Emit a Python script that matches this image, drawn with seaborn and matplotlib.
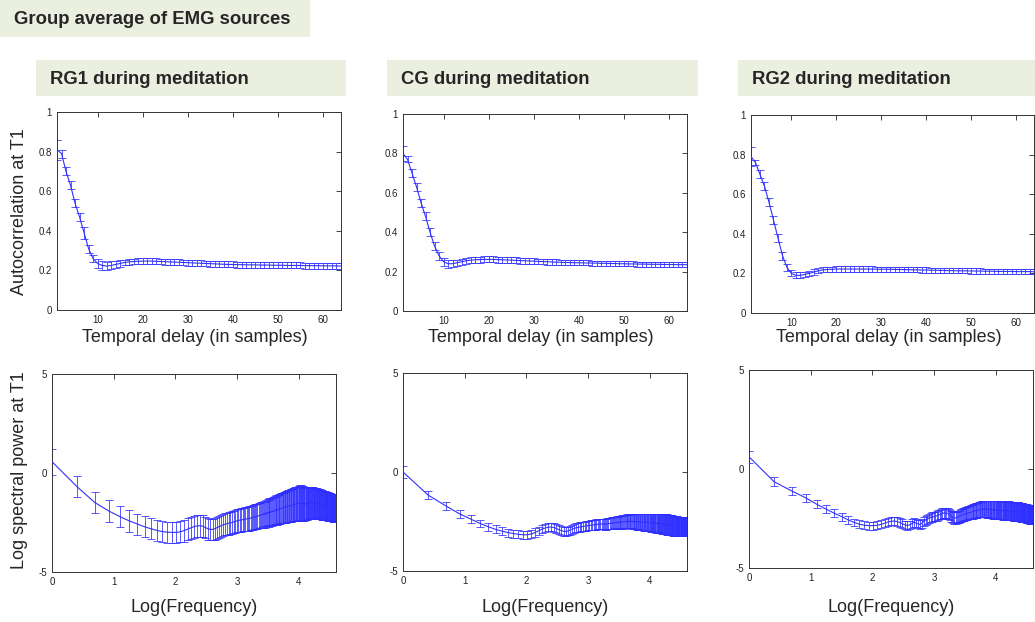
import numpy as np
import matplotlib
matplotlib.use("Agg")
import matplotlib.pyplot as plt
import seaborn as sns
from matplotlib.patches import Rectangle

sns.set_style("white")
plt.rcParams['font.family'] = ['Liberation Sans', 'DejaVu Sans']

# ---------------- data ----------------
panel_titles = ["RG1 during meditation", "CG during meditation", "RG2 during meditation"]
main_title = "Group average of EMG sources"

lags = np.arange(1, 65)            # temporal delay (samples)
freqs = np.arange(1, 100.5, 0.5)   # frequency bins (Hz), plotted as log(f)

acf_rg1 = [0.81, 0.79, 0.70, 0.63, 0.54, 0.47, 0.39, 0.31, 0.26, 0.235,
           0.225, 0.222, 0.225, 0.230, 0.235, 0.240, 0.243, 0.245, 0.246, 0.247,
           0.247, 0.247, 0.246, 0.245, 0.244, 0.243, 0.242, 0.241, 0.240, 0.239,
           0.238, 0.237, 0.236, 0.235, 0.234, 0.233, 0.232, 0.231, 0.230, 0.230,
           0.229, 0.229, 0.228, 0.228, 0.228, 0.227, 0.227, 0.227, 0.226, 0.226,
           0.226, 0.225, 0.225, 0.225, 0.225, 0.224, 0.224, 0.224, 0.224, 0.223,
           0.223, 0.223, 0.223, 0.222]
acf_rg1_err = [0.05, 0.02, 0.02, 0.02, 0.02, 0.02, 0.03, 0.02, 0.02, 0.025,
               0.025, 0.022, 0.020, 0.018, 0.016, 0.015, 0.015, 0.015, 0.015, 0.015,
               0.015, 0.015, 0.015, 0.015, 0.015, 0.015, 0.015, 0.015, 0.015, 0.015,
               0.015, 0.015, 0.015, 0.015, 0.015, 0.015, 0.015, 0.015, 0.015, 0.015,
               0.015, 0.015, 0.015, 0.015, 0.015, 0.015, 0.015, 0.015, 0.015, 0.015,
               0.015, 0.015, 0.015, 0.015, 0.015, 0.015, 0.015, 0.015, 0.015, 0.015,
               0.015, 0.015, 0.015, 0.015]

acf_cg = [0.80, 0.77, 0.70, 0.63, 0.55, 0.48, 0.40, 0.33, 0.28, 0.25,
          0.240, 0.240, 0.245, 0.250, 0.255, 0.258, 0.260, 0.261, 0.262, 0.262,
          0.262, 0.261, 0.260, 0.259, 0.258, 0.257, 0.256, 0.255, 0.254, 0.253,
          0.252, 0.251, 0.250, 0.249, 0.248, 0.247, 0.246, 0.246, 0.245, 0.245,
          0.244, 0.244, 0.243, 0.243, 0.242, 0.242, 0.241, 0.241, 0.240, 0.240,
          0.239, 0.239, 0.238, 0.238, 0.238, 0.237, 0.237, 0.237, 0.236, 0.236,
          0.236, 0.235, 0.235, 0.235]
acf_cg_err = [0.04, 0.015, 0.02, 0.02, 0.02, 0.02, 0.02, 0.02, 0.02, 0.02,
              0.02, 0.018, 0.016, 0.015, 0.015, 0.015, 0.015, 0.015, 0.015, 0.015,
              0.015, 0.015, 0.015, 0.015, 0.015, 0.015, 0.015, 0.015, 0.015, 0.015,
              0.014, 0.014, 0.014, 0.014, 0.014, 0.014, 0.014, 0.014, 0.014, 0.014,
              0.013, 0.013, 0.013, 0.013, 0.013, 0.013, 0.013, 0.013, 0.013, 0.013,
              0.013, 0.013, 0.013, 0.013, 0.013, 0.013, 0.013, 0.013, 0.013, 0.013,
              0.013, 0.013, 0.013, 0.013]

acf_rg2 = [0.79, 0.76, 0.70, 0.64, 0.56, 0.47, 0.38, 0.29, 0.23, 0.20,
           0.190, 0.190, 0.195, 0.200, 0.207, 0.213, 0.218, 0.220, 0.221, 0.222,
           0.222, 0.222, 0.222, 0.222, 0.222, 0.222, 0.222, 0.222, 0.221, 0.221,
           0.221, 0.221, 0.220, 0.220, 0.219, 0.219, 0.218, 0.218, 0.217, 0.217,
           0.216, 0.216, 0.215, 0.215, 0.214, 0.214, 0.213, 0.213, 0.213, 0.212,
           0.212, 0.212, 0.211, 0.211, 0.211, 0.210, 0.210, 0.210, 0.210, 0.209,
           0.209, 0.209, 0.209, 0.208]
acf_rg2_err = [0.05, 0.015, 0.02, 0.02, 0.02, 0.02, 0.02, 0.02, 0.02, 0.015,
               0.015, 0.015, 0.014, 0.014, 0.013, 0.013, 0.013, 0.013, 0.013, 0.013,
               0.013, 0.013, 0.013, 0.013, 0.013, 0.013, 0.013, 0.013, 0.013, 0.013,
               0.013, 0.013, 0.013, 0.013, 0.013, 0.013, 0.013, 0.013, 0.013, 0.013,
               0.013, 0.013, 0.013, 0.013, 0.013, 0.013, 0.013, 0.013, 0.013, 0.013,
               0.013, 0.013, 0.013, 0.013, 0.013, 0.013, 0.013, 0.013, 0.013, 0.013,
               0.013, 0.013, 0.013, 0.013]

psd_rg1 = [0.57, -0.69, -1.49, -1.91, -2.20, -2.42, -2.58, -2.72, -2.82, -2.90,
           -2.96, -2.99, -3.00, -3.00, -2.97, -2.91, -2.84, -2.77, -2.71, -2.67,
           -2.66, -2.69, -2.75, -2.81, -2.85, -2.85, -2.81, -2.76, -2.71, -2.66,
           -2.62, -2.59, -2.56, -2.54, -2.52, -2.50, -2.47, -2.45, -2.42, -2.40,
           -2.38, -2.37, -2.36, -2.34, -2.33, -2.32, -2.31, -2.30, -2.28, -2.27,
           -2.25, -2.23, -2.21, -2.20, -2.18, -2.16, -2.14, -2.12, -2.10, -2.12,
           -2.04, -2.10, -2.01, -2.06, -1.98, -2.03, -1.96, -2.00, -1.94, -1.97,
           -1.91, -1.94, -1.88, -1.91, -1.85, -1.88, -1.83, -1.85, -1.80, -1.81,
           -1.78, -1.78, -1.76, -1.76, -1.74, -1.74, -1.72, -1.71, -1.70, -1.69,
           -1.68, -1.67, -1.66, -1.65, -1.64, -1.63, -1.62, -1.61, -1.60, -1.59,
           -1.58, -1.57, -1.57, -1.56, -1.55, -1.55, -1.54, -1.54, -1.53, -1.54,
           -1.51, -1.55, -1.52, -1.56, -1.53, -1.56, -1.54, -1.56, -1.55, -1.57,
           -1.54, -1.56, -1.53, -1.55, -1.52, -1.54, -1.51, -1.53, -1.50, -1.52,
           -1.50, -1.52, -1.50, -1.52, -1.51, -1.53, -1.51, -1.53, -1.52, -1.54,
           -1.52, -1.54, -1.53, -1.55, -1.54, -1.56, -1.55, -1.57, -1.56, -1.58,
           -1.57, -1.59, -1.58, -1.60, -1.59, -1.61, -1.60, -1.62, -1.61, -1.63,
           -1.62, -1.64, -1.63, -1.65, -1.64, -1.66, -1.65, -1.67, -1.66, -1.68,
           -1.67, -1.69, -1.68, -1.69, -1.69, -1.70, -1.70, -1.71, -1.71, -1.72,
           -1.72, -1.73, -1.73, -1.74, -1.74, -1.75, -1.75, -1.76, -1.76, -1.77,
           -1.77, -1.77, -1.78, -1.78, -1.78, -1.79, -1.79, -1.79, -1.80]
psd_rg1_err = [0.65, 0.54, 0.55, 0.55, 0.54, 0.54, 0.53, 0.53, 0.53, 0.53,
               0.53, 0.53, 0.54, 0.54, 0.54, 0.55, 0.55, 0.55, 0.55, 0.55,
               0.55, 0.55, 0.55, 0.55, 0.55, 0.55, 0.55, 0.55, 0.56, 0.56,
               0.56, 0.56, 0.56, 0.57, 0.57, 0.57, 0.57, 0.58, 0.58, 0.58,
               0.58, 0.59, 0.59, 0.59, 0.60, 0.60, 0.60, 0.61, 0.61, 0.61,
               0.62, 0.62, 0.62, 0.63, 0.63, 0.63, 0.64, 0.64, 0.64, 0.65,
               0.65, 0.66, 0.66, 0.67, 0.67, 0.68, 0.68, 0.69, 0.69, 0.70,
               0.70, 0.71, 0.71, 0.72, 0.72, 0.73, 0.73, 0.74, 0.74, 0.75,
               0.75, 0.76, 0.76, 0.77, 0.77, 0.78, 0.78, 0.79, 0.79, 0.80,
               0.80, 0.80, 0.81, 0.81, 0.81, 0.82, 0.82, 0.82, 0.83, 0.83,
               0.83, 0.84, 0.84, 0.84, 0.85, 0.85, 0.85, 0.86, 0.86, 0.86,
               0.88, 0.82, 0.90, 0.84, 0.86, 0.80, 0.87, 0.83, 0.85, 0.81,
               0.84, 0.80, 0.83, 0.79, 0.82, 0.78, 0.81, 0.77, 0.80, 0.77,
               0.80, 0.77, 0.79, 0.76, 0.78, 0.76, 0.78, 0.75, 0.77, 0.75,
               0.77, 0.75, 0.77, 0.74, 0.76, 0.74, 0.76, 0.74, 0.75, 0.73,
               0.75, 0.73, 0.75, 0.73, 0.74, 0.72, 0.74, 0.72, 0.74, 0.72,
               0.73, 0.71, 0.73, 0.71, 0.72, 0.71, 0.72, 0.70, 0.72, 0.70,
               0.71, 0.70, 0.71, 0.69, 0.71, 0.69, 0.70, 0.69, 0.70, 0.68,
               0.70, 0.68, 0.69, 0.68, 0.69, 0.68, 0.69, 0.67, 0.68, 0.67,
               0.68, 0.67, 0.68, 0.67, 0.67, 0.66, 0.67, 0.66, 0.66]

psd_cg = [0.00, -1.16, -1.71, -2.11, -2.38, -2.60, -2.77, -2.90, -2.99, -3.06,
          -3.11, -3.15, -3.17, -3.17, -3.13, -3.06, -2.97, -2.89, -2.83, -2.79,
          -2.78, -2.80, -2.85, -2.91, -2.96, -2.99, -3.00, -2.98, -2.94, -2.89,
          -2.85, -2.82, -2.80, -2.78, -2.77, -2.75, -2.74, -2.72, -2.71, -2.70,
          -2.69, -2.68, -2.67, -2.66, -2.65, -2.64, -2.63, -2.63, -2.62, -2.62,
          -2.63, -2.64, -2.63, -2.62, -2.61, -2.60, -2.59, -2.58, -2.57, -2.58,
          -2.55, -2.57, -2.54, -2.56, -2.53, -2.55, -2.52, -2.54, -2.51, -2.53,
          -2.50, -2.52, -2.49, -2.51, -2.48, -2.50, -2.48, -2.50, -2.48, -2.50,
          -2.49, -2.51, -2.49, -2.51, -2.50, -2.52, -2.50, -2.52, -2.51, -2.53,
          -2.51, -2.53, -2.52, -2.54, -2.52, -2.54, -2.53, -2.54, -2.53, -2.55,
          -2.53, -2.55, -2.54, -2.55, -2.54, -2.56, -2.55, -2.56, -2.55, -2.57,
          -2.55, -2.57, -2.56, -2.58, -2.56, -2.58, -2.57, -2.59, -2.57, -2.59,
          -2.58, -2.60, -2.58, -2.60, -2.59, -2.61, -2.59, -2.61, -2.60, -2.62,
          -2.60, -2.62, -2.61, -2.63, -2.62, -2.63, -2.62, -2.64, -2.63, -2.65,
          -2.64, -2.65, -2.64, -2.66, -2.65, -2.67, -2.66, -2.67, -2.67, -2.68,
          -2.67, -2.69, -2.68, -2.69, -2.69, -2.70, -2.70, -2.71, -2.70, -2.71,
          -2.71, -2.72, -2.71, -2.72, -2.72, -2.73, -2.72, -2.73, -2.73, -2.74,
          -2.73, -2.74, -2.74, -2.74, -2.74, -2.75, -2.74, -2.75, -2.75, -2.75,
          -2.75, -2.75, -2.75, -2.76, -2.75, -2.76, -2.76, -2.76, -2.76, -2.76,
          -2.76, -2.76, -2.76, -2.76, -2.75, -2.75, -2.75, -2.75, -2.74]
psd_cg_err = [0.30, 0.22, 0.20, 0.20, 0.20, 0.20, 0.20, 0.20, 0.20, 0.20,
              0.20, 0.20, 0.20, 0.20, 0.20, 0.21, 0.21, 0.21, 0.21, 0.21,
              0.21, 0.21, 0.22, 0.22, 0.22, 0.22, 0.22, 0.22, 0.22, 0.23,
              0.23, 0.23, 0.23, 0.23, 0.23, 0.24, 0.24, 0.24, 0.24, 0.24,
              0.25, 0.25, 0.25, 0.25, 0.26, 0.26, 0.26, 0.26, 0.27, 0.27,
              0.27, 0.27, 0.28, 0.28, 0.28, 0.28, 0.29, 0.29, 0.29, 0.29,
              0.30, 0.30, 0.30, 0.31, 0.31, 0.31, 0.32, 0.32, 0.32, 0.33,
              0.33, 0.33, 0.34, 0.34, 0.34, 0.35, 0.35, 0.35, 0.36, 0.36,
              0.36, 0.37, 0.37, 0.37, 0.38, 0.38, 0.38, 0.39, 0.39, 0.39,
              0.40, 0.40, 0.40, 0.41, 0.41, 0.41, 0.42, 0.42, 0.42, 0.42,
              0.43, 0.43, 0.43, 0.43, 0.44, 0.44, 0.44, 0.44, 0.45, 0.45,
              0.45, 0.45, 0.45, 0.46, 0.46, 0.46, 0.46, 0.46, 0.47, 0.47,
              0.47, 0.47, 0.47, 0.47, 0.48, 0.48, 0.48, 0.48, 0.48, 0.48,
              0.48, 0.49, 0.49, 0.49, 0.49, 0.49, 0.49, 0.49, 0.49, 0.50,
              0.50, 0.50, 0.50, 0.50, 0.50, 0.50, 0.50, 0.50, 0.50, 0.50,
              0.50, 0.50, 0.50, 0.50, 0.50, 0.50, 0.50, 0.50, 0.49, 0.49,
              0.49, 0.49, 0.49, 0.49, 0.49, 0.49, 0.49, 0.49, 0.48, 0.48,
              0.48, 0.48, 0.48, 0.48, 0.48, 0.48, 0.47, 0.47, 0.47, 0.47,
              0.47, 0.47, 0.47, 0.47, 0.47, 0.46, 0.46, 0.46, 0.46, 0.46,
              0.46, 0.46, 0.46, 0.46, 0.46, 0.46, 0.46, 0.46, 0.46]

psd_rg2 = [0.62, -0.64, -1.11, -1.45, -1.78, -2.03, -2.24, -2.41, -2.57, -2.70,
           -2.79, -2.84, -2.86, -2.86, -2.84, -2.80, -2.74, -2.68, -2.64, -2.63,
           -2.65, -2.70, -2.76, -2.82, -2.85, -2.83, -2.76, -2.70, -2.72, -2.78,
           -2.80, -2.74, -2.65, -2.58, -2.53, -2.49, -2.46, -2.43, -2.41, -2.39,
           -2.36, -2.33, -2.30, -2.27, -2.24, -2.22, -2.21, -2.22, -2.24, -2.28,
           -2.33, -2.38, -2.42, -2.45, -2.47, -2.47, -2.46, -2.44, -2.41, -2.38,
           -2.35, -2.33, -2.30, -2.29, -2.27, -2.26, -2.24, -2.23, -2.22, -2.21,
           -2.20, -2.18, -2.17, -2.15, -2.14, -2.12, -2.11, -2.10, -2.09, -2.08,
           -2.07, -2.06, -2.05, -2.04, -2.04, -2.03, -2.03, -2.02, -2.02, -2.02,
           -2.02, -2.03, -2.02, -2.04, -2.03, -2.05, -2.03, -2.05, -2.04, -2.06,
           -2.04, -2.06, -2.05, -2.07, -2.05, -2.07, -2.06, -2.08, -2.06, -2.08,
           -2.07, -2.09, -2.07, -2.09, -2.08, -2.10, -2.08, -2.10, -2.09, -2.10,
           -2.09, -2.11, -2.09, -2.11, -2.10, -2.11, -2.10, -2.12, -2.10, -2.12,
           -2.11, -2.12, -2.11, -2.13, -2.11, -2.13, -2.12, -2.13, -2.12, -2.14,
           -2.12, -2.14, -2.13, -2.14, -2.13, -2.15, -2.14, -2.15, -2.14, -2.16,
           -2.15, -2.16, -2.15, -2.17, -2.16, -2.17, -2.16, -2.18, -2.17, -2.18,
           -2.18, -2.19, -2.18, -2.20, -2.19, -2.20, -2.20, -2.21, -2.21, -2.22,
           -2.21, -2.22, -2.22, -2.23, -2.23, -2.24, -2.24, -2.25, -2.25, -2.26,
           -2.26, -2.27, -2.27, -2.28, -2.28, -2.29, -2.29, -2.30, -2.30, -2.31,
           -2.31, -2.32, -2.32, -2.33, -2.33, -2.34, -2.34, -2.35, -2.35]
psd_rg2_err = [0.30, 0.22, 0.22, 0.21, 0.21, 0.21, 0.20, 0.20, 0.20, 0.20,
               0.20, 0.20, 0.20, 0.20, 0.20, 0.20, 0.20, 0.20, 0.20, 0.21,
               0.21, 0.21, 0.21, 0.21, 0.21, 0.22, 0.22, 0.22, 0.22, 0.22,
               0.22, 0.23, 0.23, 0.23, 0.23, 0.23, 0.24, 0.24, 0.24, 0.24,
               0.25, 0.25, 0.25, 0.25, 0.26, 0.26, 0.26, 0.27, 0.27, 0.27,
               0.27, 0.28, 0.28, 0.28, 0.29, 0.29, 0.29, 0.30, 0.30, 0.30,
               0.31, 0.31, 0.31, 0.32, 0.32, 0.32, 0.33, 0.33, 0.33, 0.34,
               0.34, 0.34, 0.35, 0.35, 0.35, 0.36, 0.36, 0.36, 0.37, 0.37,
               0.37, 0.38, 0.38, 0.38, 0.39, 0.39, 0.39, 0.40, 0.40, 0.40,
               0.40, 0.41, 0.41, 0.41, 0.41, 0.42, 0.42, 0.42, 0.42, 0.43,
               0.43, 0.43, 0.43, 0.43, 0.44, 0.44, 0.44, 0.44, 0.44, 0.44,
               0.45, 0.45, 0.45, 0.45, 0.45, 0.45, 0.45, 0.45, 0.45, 0.45,
               0.46, 0.46, 0.46, 0.46, 0.46, 0.46, 0.46, 0.46, 0.46, 0.46,
               0.46, 0.46, 0.47, 0.46, 0.47, 0.46, 0.47, 0.46, 0.47, 0.46,
               0.47, 0.46, 0.47, 0.46, 0.47, 0.46, 0.47, 0.46, 0.47, 0.46,
               0.47, 0.46, 0.47, 0.46, 0.47, 0.46, 0.47, 0.46, 0.47, 0.46,
               0.46, 0.46, 0.46, 0.46, 0.46, 0.46, 0.46, 0.46, 0.46, 0.46,
               0.46, 0.45, 0.46, 0.45, 0.46, 0.45, 0.46, 0.45, 0.46, 0.45,
               0.45, 0.45, 0.45, 0.45, 0.45, 0.45, 0.45, 0.45, 0.45, 0.45,
               0.45, 0.45, 0.45, 0.45, 0.45, 0.45, 0.45, 0.45, 0.45]

acf_series = [(acf_rg1, acf_rg1_err), (acf_cg, acf_cg_err), (acf_rg2, acf_rg2_err)]
psd_series = [(psd_rg1, psd_rg1_err), (psd_cg, psd_cg_err), (psd_rg2, psd_rg2_err)]

acf_yticks = [0, 0.2, 0.4, 0.6, 0.8, 1]
acf_yticklabels = ["0", "0.2", "0.4", "0.6", "0.8", "1"]
acf_xticks = [10, 20, 30, 40, 50, 60]
psd_yticks = [-5, 0, 5]
psd_yticklabels = ["-5", "0", "5"]
psd_xticks = [0, 1, 2, 3, 4]

# ---------------- layout (pixels) ----------------
W, H = 1035, 622
BOX = "#eaefdf"
LINE = "#3030ff"
ERR = "#2f2fff"

fig = plt.figure(figsize=(W / 100, H / 100), dpi=100)


def rect(x0, x1, y0, y1):
    return [x0 / W, 1 - y1 / H, (x1 - x0) / W, (y1 - y0) / H]


def fx(x):
    return x / W


def fy(y):
    return 1 - y / H


# title boxes
fig.patches.append(Rectangle((0, fy(37)), fx(310), 37 / H, transform=fig.transFigure,
                             facecolor=BOX, edgecolor="none", zorder=0))
fig.text(fx(14), fy(20), main_title, fontsize=13.3, fontweight="bold", va="center", ha="left")

title_boxes = [(36, 346), (387, 698), (738, 1035)]
for (x0, x1), t in zip(title_boxes, panel_titles):
    fig.patches.append(Rectangle((fx(x0), fy(96)), fx(x1 - x0), 36 / H, transform=fig.transFigure,
                                 facecolor=BOX, edgecolor="none", zorder=0))
    fig.text(fx(x0 + 14), fy(79), t, fontsize=13.3, fontweight="bold", va="center", ha="left")

top_rects = [(57, 341, 112, 310), (403, 687, 114, 311), (751, 1034, 115, 313)]
bot_rects = [(52, 336, 374, 572), (403, 687, 373, 571), (749, 1033, 370, 568)]


def style_axes(ax):
    ax.tick_params(direction="in", top=True, right=True, length=3.5, width=0.6,
                   labelsize=7, pad=3.5, colors="#222222")
    for s in ax.spines.values():
        s.set_linewidth(0.7)
        s.set_color("#333333")
        s.set_visible(True)
    ax.set_xlabel("")
    ax.set_ylabel("")


def draw(ax, x, y, e):
    ax.errorbar(x, y, yerr=e, fmt="none", ecolor=ERR, elinewidth=0.7, capsize=2.6,
                capthick=0.7, alpha=0.8, zorder=2)
    sns.lineplot(x=x, y=y, ax=ax, color=LINE, linewidth=0.8, zorder=3)


for (x0, x1, y0, y1), (m, e) in zip(top_rects, acf_series):
    ax = fig.add_axes(rect(x0, x1, y0, y1))
    draw(ax, lags, np.array(m), np.array(e))
    ax.set_xlim(1, 64)
    ax.set_ylim(0, 1)
    ax.set_yticks(acf_yticks)
    ax.set_yticklabels(acf_yticklabels)
    ax.set_xticks(acf_xticks)
    style_axes(ax)
    fig.text(fx((x0 + x1) / 2 - 4), fy(337), "Temporal delay (in samples)", fontsize=13,
             ha="center", va="center")

logf = np.log(freqs)
for (x0, x1, y0, y1), (m, e) in zip(bot_rects, psd_series):
    ax = fig.add_axes(rect(x0, x1, y0, y1))
    draw(ax, logf, np.array(m), np.array(e))
    ax.set_xlim(0, np.log(100))
    ax.set_ylim(-5, 5)
    ax.set_yticks(psd_yticks)
    ax.set_yticklabels(psd_yticklabels)
    ax.set_xticks(psd_xticks)
    style_axes(ax)
    fig.text(fx((x0 + x1) / 2), fy(607), "Log(Frequency)", fontsize=13, ha="center", va="center")

fig.text(fx(20), fy(212), "Autocorrelation at T1", fontsize=13, rotation=90, ha="center", va="center")
fig.text(fx(20), fy(470), "Log spectral power at T1", fontsize=13, rotation=90, ha="center", va="center")

fig.savefig("out.png", dpi=100)
